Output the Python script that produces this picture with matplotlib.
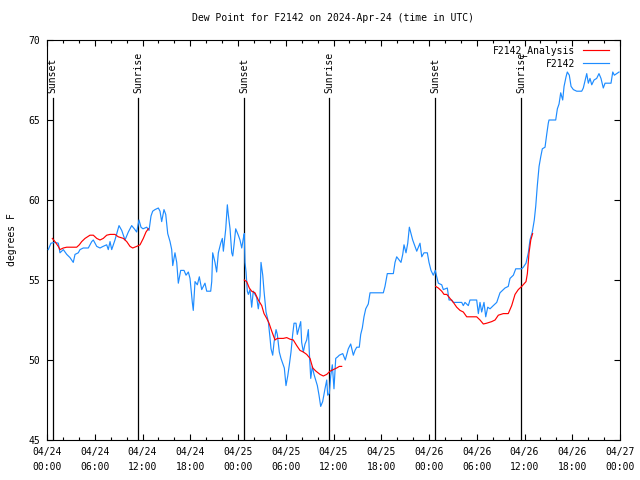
import numpy as np
import matplotlib
matplotlib.use("Agg")
import matplotlib.pyplot as plt

# hours since 2024-04-24 00:00 UTC
obs_hours = [0.16, 0.5, 1.0, 1.42, 1.63, 2.05, 2.48, 2.89, 3.30, 3.52, 3.93, 4.15, 4.56, 5.19, 5.62, 5.82,
             6.25, 6.66, 7.04, 7.50, 7.70, 7.92, 8.13, 8.54, 8.83, 9.05, 9.39, 9.59, 9.80, 10.22, 10.64,
             10.97, 11.27, 11.56, 11.81, 12.06, 12.53, 12.82, 13.07, 13.28, 13.57, 13.99, 14.20, 14.41,
             14.70, 14.92, 15.17, 15.46, 15.67, 15.80, 16.08, 16.30, 16.50, 16.80, 17.22, 17.47, 17.76,
             17.97, 18.26, 18.38, 18.60, 18.89, 19.14, 19.44, 19.85, 20.07, 20.57, 20.70, 20.82, 21.11,
             21.32, 21.53, 21.83, 22.03, 22.16, 22.46, 22.66, 22.78, 23.0, 23.21, 23.34, 23.50, 23.71,
             24.04, 24.25, 24.47, 24.67, 24.79, 24.88, 25.01, 25.17, 25.30, 25.51, 25.72, 25.92, 26.35,
             26.55, 26.77, 26.89, 27.11, 27.27, 27.52, 27.81, 28.02, 28.15, 28.36, 28.53, 28.78, 28.94,
             29.19, 29.40, 29.82, 30.03, 30.25, 30.45, 30.66, 30.87, 31.04, 31.29, 31.45, 31.67, 31.88,
             32.0, 32.21, 32.42, 32.63, 32.84, 32.96, 33.14, 33.34, 33.55, 33.97, 34.18, 34.39, 34.64,
             34.93, 35.15, 35.27, 35.47, 35.65, 35.85, 36.06, 36.28, 36.53, 36.73, 37.16, 37.48, 37.86,
             38.16, 38.49, 38.70, 38.92, 39.24, 39.42, 39.62, 39.83, 40.05, 40.37, 40.59, 42.26, 42.47,
             42.76, 43.52, 43.73, 43.94, 44.48, 44.70, 44.86, 45.11, 45.33, 45.53, 45.74, 45.95, 46.24,
             46.46, 46.87, 47.09, 47.37, 47.79, 48.0, 48.25, 48.54, 48.79, 48.97, 49.17, 49.60, 49.80,
             50.30, 50.52, 50.86, 51.06, 52.11, 52.31, 52.52, 52.94, 53.15, 53.99, 54.20, 54.41, 54.62,
             54.91, 55.13, 55.38, 55.67, 56.08, 56.51, 56.92, 57.13, 57.55, 57.96, 58.18, 58.39, 58.60,
             58.90, 59.65, 59.85, 60.19, 60.48, 60.69, 60.98, 61.23, 61.41, 61.61, 61.83, 62.04, 62.24,
             62.58, 62.79, 62.99, 63.08, 63.92, 64.13, 64.34, 64.55, 64.80, 64.97, 65.22, 65.38, 65.63,
             65.85, 66.14, 66.56, 67.19, 67.39, 67.82, 68.02, 68.23, 68.45, 68.74, 69.07, 69.36, 69.61,
             69.90, 70.12, 70.87, 71.09, 71.29, 71.59, 71.88]
obs_values = [56.9, 57.3, 57.35, 57.3, 56.7, 56.9, 56.6, 56.4, 56.1, 56.6, 56.7, 56.9, 57.0, 57.0, 57.4, 57.5,
              57.1, 57.0, 57.1, 57.2, 56.9, 57.4, 56.9, 57.5, 58.0, 58.4, 58.1, 57.8, 57.5, 58.0, 58.4,
              58.2, 58.0, 58.75, 58.3, 58.2, 58.3, 58.1, 59.0, 59.3, 59.4, 59.5, 59.3, 58.65,
              59.4, 59.1, 57.9, 57.4, 56.9, 55.9, 56.7, 56.1, 54.8, 55.6, 55.6, 55.3, 55.5,
              55.1, 53.6, 53.1, 54.9, 54.7, 55.2, 54.4, 54.8, 54.3, 54.3, 54.9, 56.7, 56.1,
              55.5, 56.7, 57.3, 57.6, 56.8, 58.2, 59.7, 59.1, 58.2, 56.7, 56.5, 57.2, 58.2,
              57.8, 57.5, 57.0, 57.6, 57.9, 56.1, 55.5, 54.3, 54.1, 54.4, 53.3, 54.3, 53.9,
              53.2, 54.0, 56.1, 55.3, 54.3, 53.0, 52.4, 51.4, 50.7, 50.3, 51.1, 51.9, 51.6,
              50.5, 50.1, 49.5, 48.4, 49.0, 49.7, 50.5, 51.6, 52.3, 52.3, 51.6, 52.0, 52.4,
              51.1, 50.5, 51.0, 51.25, 51.9, 50.5, 48.85, 49.6, 49.1, 48.4, 47.8, 47.1, 47.4,
              48.2, 48.75, 47.8, 47.9, 49.0, 49.7, 48.2, 50.1, 50.2, 50.3, 50.4, 50.0, 50.7,
              51.0, 50.3, 50.6, 50.8, 50.8, 51.6, 52.0, 52.7, 53.2, 53.5, 54.2, 54.2, 54.6,
              55.4, 55.4, 56.1, 56.45, 56.1, 56.6, 57.2, 56.7, 57.3, 58.3, 57.9, 57.5, 57.1,
              56.8, 57.3, 56.45, 56.7, 56.7, 56.1, 55.6, 55.3, 55.6, 55.2, 54.8, 54.7, 54.4,
              54.5, 53.75, 53.75, 53.6, 53.6, 53.4, 53.6, 53.4, 53.75, 53.75, 52.9, 53.6, 53.0,
              53.6, 52.7, 53.3, 53.2, 53.4, 53.6, 54.2, 54.3, 54.5, 54.6, 55.1, 55.2, 55.3,
              55.7, 55.7, 55.8, 56.05, 56.7, 57.5, 58.0, 58.75, 59.6, 60.9, 62.1, 62.7, 63.2,
              63.3, 64.1, 64.8, 65.0, 65.0, 65.7, 66.0, 66.7, 66.25, 67.1, 67.7, 68.0, 67.8,
              67.1, 66.9, 66.8, 66.8, 67.0, 67.9, 67.3, 67.6, 67.2, 67.5, 67.6, 67.9, 67.6,
              67.0, 67.3, 67.3, 68.0, 67.8, 67.9, 68.0]

ana1_hours = [0.67, 1.0, 1.42, 1.63, 2.05, 2.48, 3.73, 4.06, 4.36, 4.78, 5.40, 5.82, 6.25, 6.66, 7.07,
              7.50, 7.92, 8.54, 8.96, 9.59, 10.02, 10.43, 10.77, 11.27, 11.69, 12.10, 12.44, 12.73]
ana1_values = [57.6, 57.4, 57.1, 56.9, 57.0, 57.05, 57.05, 57.2, 57.4, 57.6, 57.8, 57.8, 57.6, 57.5, 57.6,
               57.8, 57.85, 57.85, 57.7, 57.6, 57.4, 57.1, 57.0, 57.1, 57.2, 57.6, 58.0, 58.2]
ana2_hours = [24.79, 25.09, 25.42, 25.72, 26.13, 26.55, 26.98, 27.27, 27.61, 27.90, 28.24, 28.65, 28.94,
              29.69, 30.12, 30.54, 30.95, 31.38, 31.79, 32.21, 32.63, 33.05, 33.39, 33.80, 34.31, 34.72,
              35.15, 35.56, 35.98, 36.40, 36.73, 37.03]
ana2_values = [55.0, 54.9, 54.5, 54.3, 54.2, 53.75, 53.4, 52.9, 52.6, 52.3, 51.8, 51.25, 51.35,
               51.35, 51.4, 51.3, 51.25, 50.9, 50.6, 50.5, 50.35, 50.1, 49.5, 49.3, 49.1, 49.0,
               49.1, 49.3, 49.4, 49.5, 49.6, 49.6]
ana3_hours = [48.84, 49.17, 49.60, 49.89, 50.23, 50.64, 51.06, 51.48, 51.90, 52.31, 52.74, 53.99, 54.41,
              54.83, 55.25, 55.88, 56.30, 56.71, 57.34, 57.96, 58.39, 58.81, 59.22, 59.65, 60.19, 60.36,
              60.57, 60.79, 61.02]
ana3_values = [54.6, 54.5, 54.3, 54.1, 54.1, 53.85, 53.6, 53.3, 53.1, 53.0, 52.7, 52.7, 52.5,
               52.25, 52.3, 52.4, 52.5, 52.8, 52.9, 52.9, 53.4, 54.1, 54.4, 54.6, 54.9, 55.4,
               56.7, 57.5, 57.9]

sun_hours = [0.7, 11.48, 24.78, 35.47, 48.8, 59.6]
sun_labels = ["Sunset", "Sunrise", "Sunset", "Sunrise", "Sunset", "Sunrise"]

xtick_hours = list(range(0, 73, 6))
xtick_labels = ["04/24\n00:00", "04/24\n06:00", "04/24\n12:00", "04/24\n18:00",
                "04/25\n00:00", "04/25\n06:00", "04/25\n12:00", "04/25\n18:00",
                "04/26\n00:00", "04/26\n06:00", "04/26\n12:00", "04/26\n18:00",
                "04/27\n00:00"]
ytick_values = [45, 50, 55, 60, 65, 70]

plt.rcParams['font.family'] = ['DejaVu Sans Mono']
FS = 7

fig = plt.figure(figsize=(6.4, 4.8), dpi=100)
ax = fig.add_axes([47/640, 40/480, (620-47)/640, 400/480])

blue = '#1e8cff'
red = '#ff0000'

lb, = ax.plot(obs_hours, obs_values, color=blue, lw=0.85, zorder=3)
lr, = ax.plot(ana1_hours, ana1_values, color=red, lw=0.85, zorder=4)
ax.plot(ana2_hours, ana2_values, color=red, lw=0.85, zorder=4)
ax.plot(ana3_hours, ana3_values, color=red, lw=0.85, zorder=4)

line_top = 66.4
for h, lab in zip(sun_hours, sun_labels):
    ax.plot([h, h], [45, line_top], color='black', lw=0.9, zorder=2)
    ax.text(h, line_top + 0.3, lab, rotation=90, ha='center', va='bottom', fontsize=FS)

ax.set_xlim(0, 72)
ax.set_ylim(45, 70)
ax.set_xticks(xtick_hours)
ax.set_xticklabels(xtick_labels, fontsize=FS, linespacing=1.6)
ax.set_xticks(list(range(0, 73, 2)), minor=True)
ax.set_yticks(ytick_values)
ax.set_yticklabels([str(v) for v in ytick_values], fontsize=FS)
ax.tick_params(axis='both', which='major', direction='in', length=4, width=0.8,
               top=True, right=True, pad=5)
ax.tick_params(axis='x', which='minor', direction='in', length=2.3, width=0.8, top=True)
for s in ax.spines.values():
    s.set_linewidth(0.8)

ax.set_ylabel("degrees F", fontsize=FS, labelpad=8)
ax.set_title("Dew Point for F2142 on 2024-Apr-24 (time in UTC)", fontsize=FS, pad=14)

leg = ax.legend([lr, lb], ["F2142_Analysis", "F2142"], loc='upper right', frameon=False,
                fontsize=FS, markerfirst=False, handlelength=2.7, borderaxespad=0.15,
                bbox_to_anchor=(0.99, 1.0),
                labelspacing=0.25, handletextpad=0.8)
for t in leg.get_texts():
    t.set_ha('right')

fig.savefig("out.png", dpi=100)
